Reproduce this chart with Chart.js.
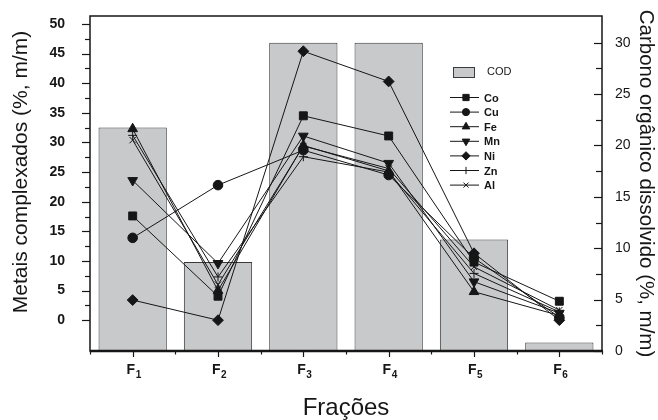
<!DOCTYPE html>
<html>
<head>
<meta charset="utf-8">
<script src="https://cdn.jsdelivr.net/npm/chart.js@4/dist/chart.umd.min.js"></script>
<style>
  html, body { margin: 0; padding: 0; background: #fff; }
  #wrap { width: 658px; height: 420px; }
</style>
</head>
<body>
<div id="wrap"><canvas id="c" width="658" height="420"></canvas></div>
<script>
// ---- data ----
const categories = ['F1', 'F2', 'F3', 'F4', 'F5', 'F6'];
const cod = [21.75, 8.67, 30.0, 30.0, 10.85, 0.82];
const co  = [17.6, 4.05, 34.5, 31.1, 9.8, 3.2];
const cu  = [13.9, 22.8, 28.7, 24.5, 10.5, 0.5];
const fe  = [32.3, 5.0, 29.5, 25.2, 4.8, 0.8];
const mn  = [23.6, 9.6, 31.1, 26.5, 6.5, 1.2];
const ni  = [3.4, 0.0, 45.4, 40.3, 11.3, 0.0];
const zn  = [31.2, 7.3, 27.6, 25.0, 7.9, 1.4];
const al  = [30.4, 6.0, 29.4, 25.6, 9.0, 1.7];
const seriesNames = ['Co', 'Cu', 'Fe', 'Mn', 'Ni', 'Zn', 'Al'];
const barName = 'COD';
const leftTicks = [0, 5, 10, 15, 20, 25, 30, 35, 40, 45, 50];
const rightTicks = [0, 5, 10, 15, 20, 25, 30];
const xTitle = 'Frações';
const leftTitle = 'Metais complexados (%, m/m)';
const rightTitle = 'Carbono orgânico dissolvido (%, m/m)';

const INK = '#161616';
const BAR_FILL = '#c8c9cb';
const BAR_EDGE = '#3a3a3a';
const FONT = '"Liberation Sans", Arial, Helvetica, sans-serif';

const styles = [
  { style: 'rect', rot: 0, r: 5.6 },
  { style: 'circle', rot: 0, r: 4.8 },
  { style: 'triangle', rot: 0, r: 5.6 },
  { style: 'triangle', rot: 180, r: 5.6 },
  { style: 'rectRot', rot: 0, r: 5.4 },
  { style: 'cross', rot: 0, r: 4.5 },
  { style: 'crossRot', rot: 0, r: 4.5 }
];
const seriesData = [co, cu, fe, mn, ni, zn, al];

const lineSets = seriesNames.map((n, i) => ({
  type: 'line',
  label: n,
  data: seriesData[i],
  yAxisID: 'y',
  borderColor: INK,
  backgroundColor: INK,
  borderWidth: 1,
  pointStyle: styles[i].style,
  rotation: styles[i].rot,
  pointRadius: styles[i].r,
  pointBorderWidth: 1,
  pointBorderColor: INK,
  pointBackgroundColor: INK,
  tension: 0,
  order: 1
}));

const barSet = {
  type: 'bar',
  label: barName,
  data: cod,
  yAxisID: 'y2',
  backgroundColor: BAR_FILL,
  borderColor: BAR_EDGE,
  borderWidth: 1,
  barPercentage: 0.8,
  categoryPercentage: 1.0,
  order: 10
};

const deco = {
  id: 'deco',
  afterDatasetsDraw(chart) {
    const { ctx, chartArea: a, scales } = chart;
    ctx.save();
    ctx.strokeStyle = INK;
    const line = (x1, y1, x2, y2) => { ctx.beginPath(); ctx.moveTo(x1, y1); ctx.lineTo(x2, y2); ctx.stroke(); };
    // frame
    ctx.lineWidth = 1.5;
    ctx.strokeRect(a.left, a.top, a.right - a.left, a.bottom - a.top);
    ctx.lineWidth = 2.5;
    line(a.left, a.bottom, a.right + 1, a.bottom);
    // left ticks (outward)
    ctx.lineWidth = 1.2;
    for (let v = 0; v <= 50; v += 2.5) {
      const y = Math.round(scales.y.getPixelForValue(v)) + 0.5;
      const len = v % 5 === 0 ? 8 : 5;
      line(a.left - len, y, a.left, y);
    }
    // right ticks (inward)
    for (let v = 0; v <= 30; v += 2.5) {
      const y = Math.round(scales.y2.getPixelForValue(v)) + 0.5;
      const len = v % 5 === 0 ? 8 : 6;
      line(a.right - len, y, a.right, y);
    }
    // x ticks
    for (let i = 0; i < categories.length; i++) {
      const x = Math.round(scales.x.getPixelForValue(i)) + 0.5;
      line(x, a.bottom, x, a.bottom + 6);
    }
    for (let i = 0; i <= categories.length; i++) {
      const x = Math.round(scales.x.getPixelForValue(i - 0.5)) + 0.5;
      line(x, a.bottom, x, a.bottom + 3.5);
    }
    ctx.restore();
  },
  afterDraw(chart) {
    const { ctx, chartArea: a, scales } = chart;
    ctx.save();
    ctx.fillStyle = INK;
    // x category labels with subscript digit
    ctx.textBaseline = 'alphabetic';
    for (let i = 0; i < categories.length; i++) {
      const x = scales.x.getPixelForValue(i);
      const main = categories[i].charAt(0);
      const sub = categories[i].slice(1);
      ctx.font = 'bold 14px ' + FONT;
      const w1 = ctx.measureText(main).width;
      ctx.font = 'bold 10px ' + FONT;
      const w2 = ctx.measureText(sub).width;
      const x0 = x - (w1 + w2) / 2 + 1;
      ctx.textAlign = 'left';
      ctx.font = 'bold 14px ' + FONT;
      ctx.fillText(main, x0, a.bottom + 23);
      ctx.font = 'bold 10px ' + FONT;
      ctx.fillText(sub, x0 + w1 + 0.5, a.bottom + 27);
    }
    // left axis title
    ctx.save();
    ctx.translate(21, 172);
    ctx.rotate(-Math.PI / 2);
    ctx.font = '21px ' + FONT;
    ctx.textAlign = 'center';
    ctx.textBaseline = 'middle';
    ctx.fillText(leftTitle, 0, 0);
    ctx.restore();

    // COD entry
    ctx.fillStyle = BAR_FILL;
    ctx.strokeStyle = BAR_EDGE;
    ctx.lineWidth = 1;
    ctx.fillRect(453, 67, 22, 11);
    ctx.strokeRect(453.5, 67.5, 21, 10);
    ctx.fillStyle = INK;
    ctx.font = '11px ' + FONT;
    ctx.textBaseline = 'middle';
    ctx.textAlign = 'left';
    ctx.fillText(barName, 487, 72);
    // series entries
    for (let i = 0; i < seriesNames.length; i++) {
      const y = 97.5 + i * 14.6;
      ctx.strokeStyle = INK;
      ctx.lineWidth = 1;
      ctx.beginPath(); ctx.moveTo(450, y); ctx.lineTo(479, y); ctx.stroke();
      ctx.fillStyle = INK;
      Chart.helpers.drawPoint(ctx, {
        pointStyle: styles[i].style,
        rotation: styles[i].rot,
        radius: Math.max(3.6, styles[i].r - 1.2),
        borderWidth: 1
      }, 466, y);
      ctx.fillStyle = INK;
      ctx.font = 'bold 11px ' + FONT;
      ctx.fillText(seriesNames[i], 484, y + 1);
    }
    ctx.restore();
  }
};

const zeroPad = (s) => { s.paddingTop = 0; s.paddingBottom = 0; s.paddingLeft = 0; s.paddingRight = 0; };

new Chart(document.getElementById('c'), {
  data: { labels: categories, datasets: [barSet, ...lineSets] },
  options: {
    responsive: false,
    animation: false,
    events: [],
    layout: { padding: { top: 16, left: 0, right: 0, bottom: 0 } },
    plugins: { legend: { display: false }, tooltip: { enabled: false } },
    scales: {
      x: {
        type: 'category',
        offset: true,
        grid: { display: false },
        border: { display: false },
        ticks: { color: 'rgba(0,0,0,0)', font: { family: FONT, size: 14 }, padding: 9, maxRotation: 0, callback: () => '' },
        title: { display: true, text: xTitle, color: INK, font: { family: FONT, size: 24, lineHeight: 1 }, padding: { top: 0, bottom: 0 } },
        afterFit(s) { s.height = 69; zeroPad(s); }
      },
      y: {
        type: 'linear',
        position: 'left',
        min: -5.2,
        max: 51.35,
        grid: { display: false },
        border: { display: false },
        afterBuildTicks(s) { s.ticks = leftTicks.map(v => ({ value: v })); },
        ticks: {
          autoSkip: false, color: INK,
          font: { family: FONT, size: 14, weight: 'bold' }, padding: 17,
          callback: (v) => String(v)
        },
        title: { display: false },
        afterFit(s) { s.width = 90; zeroPad(s); }
      },
      y2: {
        type: 'linear',
        position: 'right',
        min: 0,
        max: 32.6,
        grid: { display: false },
        border: { display: false },
        afterBuildTicks(s) { s.ticks = rightTicks.map(v => ({ value: v })); },
        ticks: {
          autoSkip: false, color: INK,
          font: { family: FONT, size: 14 }, padding: 5,
          callback: (v) => String(v)
        },
        title: { display: true, text: rightTitle, color: INK, font: { family: FONT, size: 20.5 }, padding: { top: 0, bottom: 0 } },
        afterFit(s) { s.width = 56; zeroPad(s); }
      }
    }
  },
  plugins: [deco]
});
</script>
</body>
</html>
